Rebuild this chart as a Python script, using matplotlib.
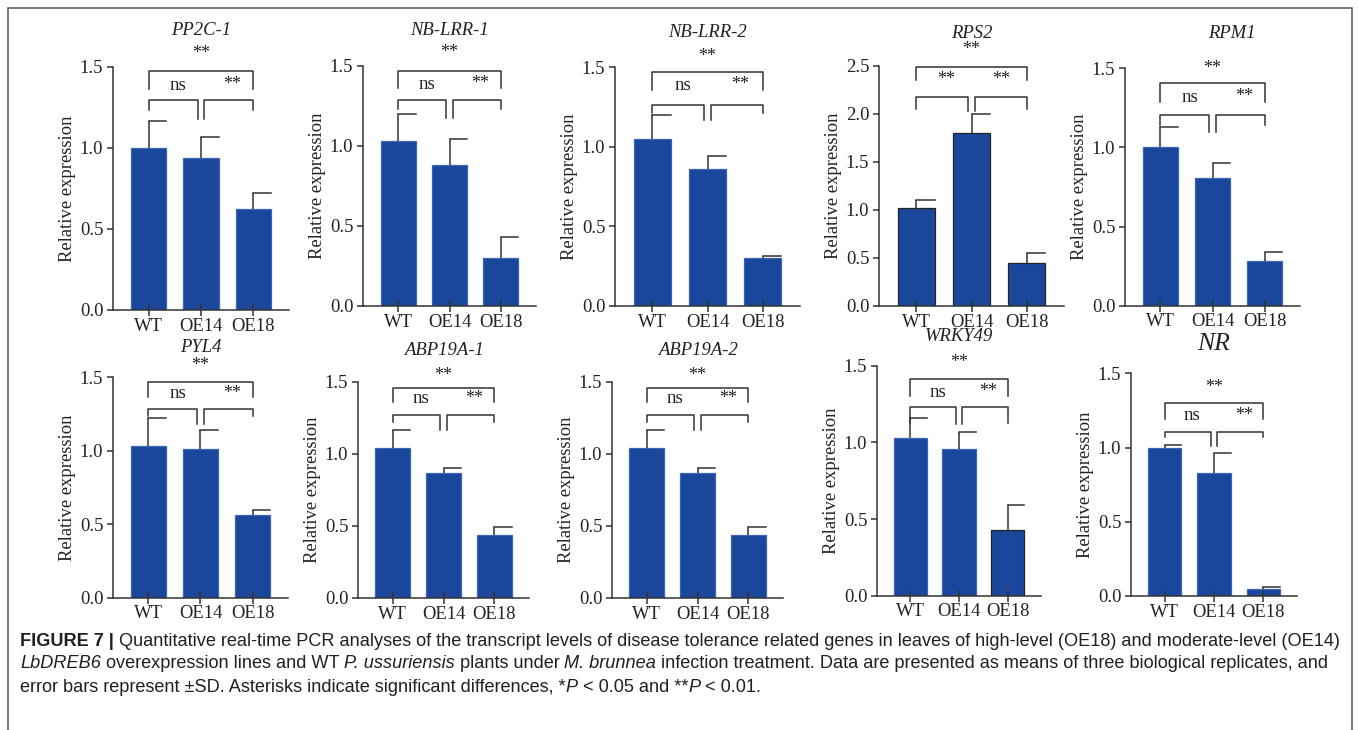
import matplotlib
matplotlib.use("Agg")
import matplotlib.pyplot as plt
from matplotlib import font_manager
from matplotlib.patches import Rectangle

W, H = 1358, 730

genes = ['PP2C-1', 'NB-LRR-1', 'NB-LRR-2', 'RPS2', 'RPM1',
         'PYL4', 'ABP19A-1', 'ABP19A-2', 'WRKY49', 'NR']
lines = ['WT', 'OE14', 'OE18']

wt_mean = [1.00, 1.03, 1.05, 1.02, 1.00, 1.03, 1.04, 1.04, 1.03, 1.00]
oe14_mean = [0.94, 0.88, 0.86, 1.80, 0.81, 1.01, 0.87, 0.87, 0.96, 0.83]
oe18_mean = [0.62, 0.30, 0.30, 0.45, 0.28, 0.56, 0.44, 0.44, 0.43, 0.05]
wt_sd = [0.165, 0.17, 0.15, 0.08, 0.13, 0.19, 0.13, 0.13, 0.13, 0.02]
oe14_sd = [0.125, 0.16, 0.08, 0.20, 0.09, 0.13, 0.03, 0.03, 0.11, 0.13]
oe18_sd = [0.10, 0.13, 0.015, 0.10, 0.06, 0.04, 0.05, 0.05, 0.16, 0.01]
y_max = [1.5, 1.5, 1.5, 2.5, 1.5, 1.5, 1.5, 1.5, 1.5, 1.5]

# significance labels: WT vs OE18 (title), WT vs OE14, OE14 vs OE18
sig_all = ['**'] * 10
sig_wt_oe14 = ['ns', 'ns', 'ns', '**', 'ns', 'ns', 'ns', 'ns', 'ns', 'ns']
sig_oe14_oe18 = ['**'] * 10

# ---- layout (pixels): axis left, axis right, y of top limit, y of zero
boxes = [(113, 289, 66.7, 310), (363, 536, 65.7, 306), (615, 800, 67.3, 306),
         (879, 1064, 66, 306), (1125, 1300, 68.3, 305.7),
         (113, 288, 377.3, 597.7), (358, 529, 382, 598), (612, 783, 382, 598),
         (877, 1041, 365.7, 595.7), (1131, 1297, 373.3, 596)]
# bracket heights: top, top leg end, low, low outer leg end, inner leg end
brackets = [(1.473, 1.36, 1.295, 1.233, 1.176), (1.469, 1.359, 1.286, 1.228, 1.175),
            (1.473, 1.36, 1.263, 1.21, 1.17), (2.49, 2.35, 2.18, 2.05, 2.03),
            (1.405, 1.289, 1.205, 1.14, 1.10), (1.471, 1.368, 1.282, 1.237, 1.182),
            (1.46, 1.36, 1.27, 1.22, 1.17), (1.46, 1.36, 1.27, 1.22, 1.17),
            (1.411, 1.30, 1.229, 1.129, 1.12), (1.30, 1.19, 1.106, 1.068, 1.01)]
# gene title y, title star y, title x
titles = [(1.726, 1.615, 1), (1.717, 1.617, 1), (1.716, 1.603, 1), (2.84, 2.73, 1),
          (1.72, 1.535, 1.37), (1.706, 1.618, 1), (1.72, 1.58, 1), (1.72, 1.58, 1),
          (1.69, 1.555, 1), (1.70, 1.44, 1)]

blue = '#1a479b'
ink = '#333333'
serif = 'Liberation Serif'

fig = plt.figure(figsize=(W / 100, H / 100), dpi=100)
fig.patches.append(Rectangle((8 / W, -0.05), 1344 / W, 1 - 8 / H + 0.05,
                             transform=fig.transFigure, fill=False,
                             edgecolor='#555555', linewidth=1.1))


def mark(ax, x, y, s, fs):
    off = 0.55 * fs if '*' in s else 0.24 * fs
    ax.annotate(s, (x, y), xytext=(0, -off), textcoords='offset points',
                ha='center', va='baseline', fontsize=fs, family=serif,
                color='#222222', annotation_clip=False)


for i, g in enumerate(genes):
    l, r, top, bot = boxes[i]
    ax = fig.add_axes([l / W, 1 - bot / H, (r - l) / W, (bot - top) / H])
    x = [0, 1, 2]
    means = [wt_mean[i], oe14_mean[i], oe18_mean[i]]
    sds = [wt_sd[i], oe14_sd[i], oe18_sd[i]]
    edges = ['#3a66b4'] * 3
    if g == 'RPS2':
        edges = ['#222222'] * 3
    if g == 'WRKY49':
        edges = ['#3a66b4', '#3a66b4', '#222222']
    ax.bar(x, means, width=0.68, color=blue, edgecolor=edges, linewidth=0.9, zorder=1)
    # one-sided error bars with half caps
    for xi, m, s in zip(x, means, sds):
        ax.plot([xi, xi], [m, m + s], color=ink, lw=1.1, zorder=2, solid_capstyle='butt')
        ax.plot([xi, xi + 0.34], [m + s, m + s], color=ink, lw=1.1, zorder=2)

    ax.set_xlim(-0.68, 2.68)
    ax.set_ylim(0, y_max[i])
    n = int(y_max[i] / 0.5) + 1
    ax.set_yticks([k * 0.5 for k in range(n)])
    ax.set_yticklabels(['%.1f' % (k * 0.5) for k in range(n)])
    ax.set_xticks(x)
    ax.set_xticklabels(lines)
    for sp in ['top', 'right']:
        ax.spines[sp].set_visible(False)
    for sp in ['left', 'bottom']:
        ax.spines[sp].set_color(ink)
        ax.spines[sp].set_linewidth(1.1)
    ax.tick_params(axis='y', direction='out', length=4, width=1.1, color=ink,
                   pad=3, labelsize=13.4, labelcolor='#222222')
    ax.tick_params(axis='x', direction='inout', length=9, width=1.1, color=ink,
                   pad=1, labelsize=13.4, labelcolor='#222222')
    for lab in ax.get_xticklabels() + ax.get_yticklabels():
        lab.set_family(serif)
    ax.set_ylabel('Relative expression', family=serif, fontsize=13.4,
                  color='#222222', labelpad=3)
    ax.patch.set_alpha(0)

    # brackets
    t, tl, lo, ll, il = brackets[i]
    kw = dict(color=ink, lw=1.1, clip_on=False)
    ax.plot([0, 0, 2, 2], [tl, t, t, tl], **kw)
    ax.plot([0, 0, 0.94, 0.94], [ll, lo, lo, il], **kw)
    ax.plot([1.06, 1.06, 2, 2], [il, lo, lo, ll], **kw)
    if sig_wt_oe14[i] == 'ns':
        mark(ax, 0.56, tl + 0.025 * y_max[i] / 1.5, 'ns', 13.5)
        mark(ax, 1.6, (t + tl) / 2 + 0.01, sig_oe14_oe18[i], 13)
    else:
        mark(ax, 0.54, (t + tl) / 2, sig_wt_oe14[i], 13)
        mark(ax, 1.54, (t + tl) / 2, sig_oe14_oe18[i], 13)

    ty, sy, tx = titles[i]
    fs = 18.5 if g == 'NR' else 13.4
    ax.text(tx, ty, g, ha='center', va='center', fontsize=fs, family=serif,
            style='italic', color='#222222', clip_on=False)
    mark(ax, 1, sy, sig_all[i], 13)

# ---- caption
names = {f.name for f in font_manager.fontManager.ttflist}
cap_font = 'Liberation Sans Narrow' if 'Liberation Sans Narrow' in names else 'Liberation Sans'

caption = [
    [('FIGURE 7 | ', 'bold'), ('Quantitative real-time PCR analyses of the transcript levels of disease '
                               'tolerance related genes in leaves of high-level (OE18) and moderate-level (OE14)', 'normal')],
    [('LbDREB6', 'italic'), (' overexpression lines and WT ', 'normal'), ('P. ussuriensis', 'italic'),
     (' plants under ', 'normal'), ('M. brunnea', 'italic'),
     (' infection treatment. Data are presented as means of three biological replicates, and', 'normal')],
    [('error bars represent \u00b1SD. Asterisks indicate significant differences, *', 'normal'),
     ('P', 'italic'), (' < 0.05 and **', 'normal'), ('P', 'italic'), (' < 0.01.', 'normal')],
]
cap_y = [641, 664, 687]

renderer = fig.canvas.get_renderer()


def run_width(s, style, size):
    kw = dict(fontsize=size, family=cap_font)
    if style == 'bold':
        kw['weight'] = 'bold'
    if style == 'italic':
        kw['style'] = 'italic'
    t1 = fig.text(0, 0, '|' + s + '|', **kw)
    t2 = fig.text(0, 0, '||', **kw)
    w = t1.get_window_extent(renderer).width - t2.get_window_extent(renderer).width
    t1.remove()
    t2.remove()
    return w


size = 12.0
w0 = sum(run_width(s, st, size) for s, st in caption[0])
size = size * (1320 / w0)

for row, yy in zip(caption, cap_y):
    xx = 20
    for s, st in row:
        kw = dict(fontsize=size, family=cap_font, color='#231f20', va='center', ha='left')
        if st == 'bold':
            kw['weight'] = 'bold'
        if st == 'italic':
            kw['style'] = 'italic'
        fig.text(xx / W, 1 - yy / H, s, **kw)
        xx += run_width(s, st, size)

fig.savefig('out.png', dpi=100, facecolor='white')
